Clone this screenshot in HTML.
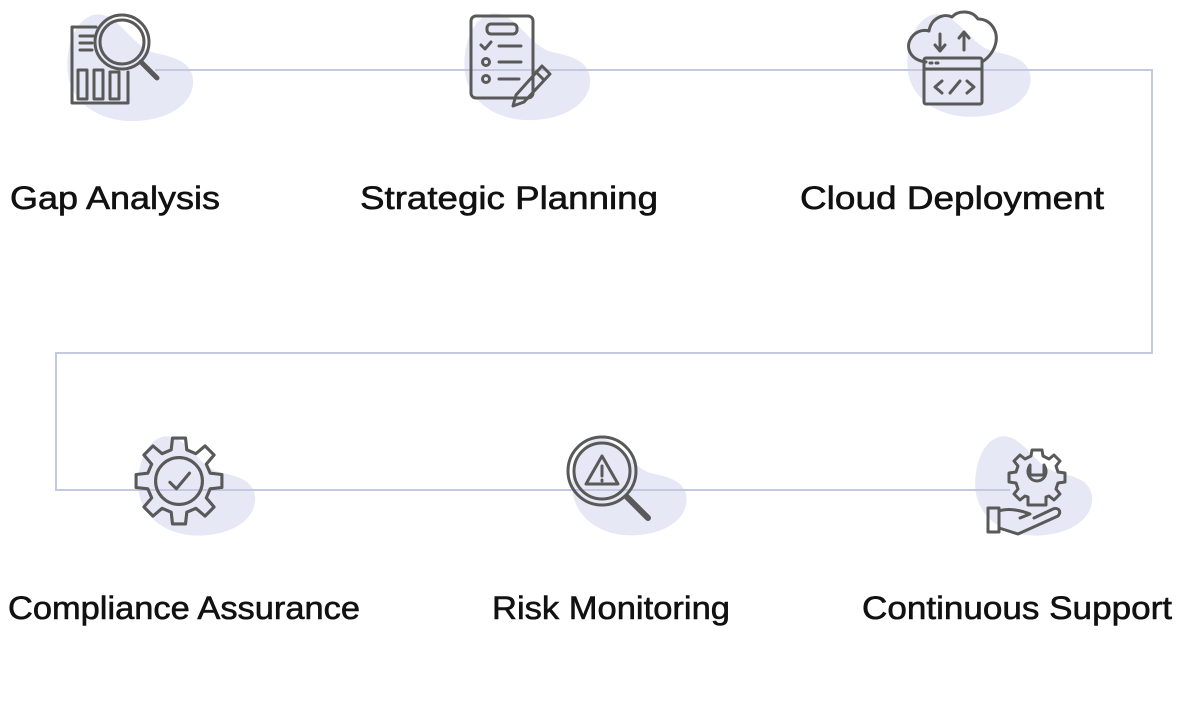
<!DOCTYPE html>
<html><head><meta charset="utf-8"><style>
html,body{margin:0;padding:0;background:#fff;}
svg{display:block;}
text{font-family:"Liberation Sans",sans-serif;fill:#111;font-size:32px;stroke:#111;stroke-width:0.6;}
</style></head><body>
<svg width="1188" height="706" viewBox="0 0 1188 706" xmlns="http://www.w3.org/2000/svg">
<defs>
<path id="blob" d="M28,2 C8,8 0,38 3,62 C8,92 38,110 72,108 C108,106 130,88 128,66 C126,48 108,44 90,40 C66,34 52,-4 28,2 Z" fill="#e6e9f5"/>
</defs>
<use href="#blob" transform="translate(65,13)"/>
<use href="#blob" transform="translate(462,12)"/>
<use href="#blob" transform="translate(905,13) scale(0.98,0.96)"/>
<use href="#blob" transform="translate(136,435) scale(0.93,0.93)"/>
<use href="#blob" transform="translate(570,437) scale(0.91,0.91)"/>
<use href="#blob" transform="translate(973,435) scale(0.93,0.93)"/>
<g stroke="#c3cae0" stroke-width="2" fill="none">
<polyline points="155,70 1152,70 1152,353 56,353 56,490 1010,490"/>
</g>
<g stroke="#595959" stroke-width="3" fill="none" stroke-linecap="round" stroke-linejoin="round">
<!-- gap analysis -->
<path d="M96,27 L72,27 L72,103 L128,103 L128,72"/>
<path d="M80,36 H94 M80,43 H92 M80,50 H92"/>
<rect x="78" y="70" width="9" height="29"/><rect x="94" y="70" width="9" height="29"/><rect x="110" y="72" width="9" height="27"/>
<circle cx="122" cy="42" r="27"/><circle cx="122" cy="42" r="22"/>
<path d="M141,62 L157,78" stroke-width="5"/>
<!-- strategic -->
<rect x="471" y="16" width="62" height="82" rx="5"/>
<rect x="487" y="24" width="30" height="10" rx="4"/>
<path d="M481,45 L485,49 L491,42 M499,46 H521 M499,62 H521 M499,79 H519"/>
<circle cx="486" cy="62" r="3.5"/><circle cx="486" cy="79" r="3.5"/>
<path d="M542,66 L550,74 L524,102 L513,106 L516,95 Z M536,72 L544,80"/>
<!-- cloud -->
<path d="M926,62 C910,60 906,48 910,40 C914,32 922,29 929,31 C931,18 944,13 952,17 C958,10 972,10 978,19 C990,19 998,30 996,42 C994,52 988,58 982,62"/>
<rect x="924" y="58" width="58" height="46" rx="2"/>
<path d="M924,69 H982 M930,63 H932 M936,63 H938"/>
<path d="M940,34 V50 M935,45 L940,51 L945,45 M964,32 V50 M959,38 L964,32 L969,38"/>
<path d="M942,81 L935,87 L942,93 M950,93 L960,81 M967,81 L974,87 L967,93"/>
<!-- gear check -->
<g transform="translate(179,481) scale(1.3) translate(-177,-475)">
<path d="M172,442 L182,442 L183,451 L190,454 L197,448 L204,455 L198,462 L201,469 L210,470 L210,480 L201,481 L198,488 L204,495 L197,502 L190,496 L183,499 L182,508 L172,508 L171,499 L164,496 L157,502 L150,495 L156,488 L153,481 L144,480 L144,470 L153,469 L156,462 L150,455 L157,448 L164,454 L171,451 Z" stroke-width="2.4"/>
<circle cx="177" cy="475" r="18" stroke-width="2.4"/>
<path d="M170,476 L175,481 L185,469" stroke-width="2.4"/>
</g>
<!-- risk -->
<circle cx="602" cy="471" r="34"/><circle cx="602" cy="471" r="28"/>
<path d="M602,456 L618,484 L586,484 Z M602,466 V476 M602,480 V481"/>
<path d="M627,497 L648,518" stroke-width="6"/>
<!-- support -->
<g transform="translate(16,-5)">
<path d="M1016,455 L1026,455 L1027,461 L1033,464 L1038,460 L1044,466 L1040,471 L1042,477 L1049,478 L1049,487 L1042,488 L1040,494 L1044,499 L1038,505 L1033,501 L1030,502 L1030,510 L1012,510 L1012,502 L1009,501 L1004,505 L998,499 L1002,494 L1000,488 L993,487 L993,478 L1000,477 L1002,471 L998,466 L1004,460 L1009,464 L1015,461 Z"/>
<path d="M1014,470 C1009,478 1014,486 1021,486 C1028,486 1033,478 1028,470 L1028,480 L1014,480 Z"/>
</g>
<path d="M988,508 H999 V532 H988 Z M999,511 C1008,508 1020,510 1030,514 L1020,518 M999,528 L1018,534 L1058,516 C1062,511 1058,507 1053,509 L1034,518"/>
</g>
<text x="10" y="209" textLength="210" lengthAdjust="spacingAndGlyphs">Gap Analysis</text>
<text x="360" y="209" textLength="298" lengthAdjust="spacingAndGlyphs">Strategic Planning</text>
<text x="800" y="209" textLength="304" lengthAdjust="spacingAndGlyphs">Cloud Deployment</text>
<text x="8" y="619" textLength="352" lengthAdjust="spacingAndGlyphs">Compliance Assurance</text>
<text x="492" y="619" textLength="238" lengthAdjust="spacingAndGlyphs">Risk Monitoring</text>
<text x="862" y="619" textLength="310" lengthAdjust="spacingAndGlyphs">Continuous Support</text>
</svg>
</body></html>
